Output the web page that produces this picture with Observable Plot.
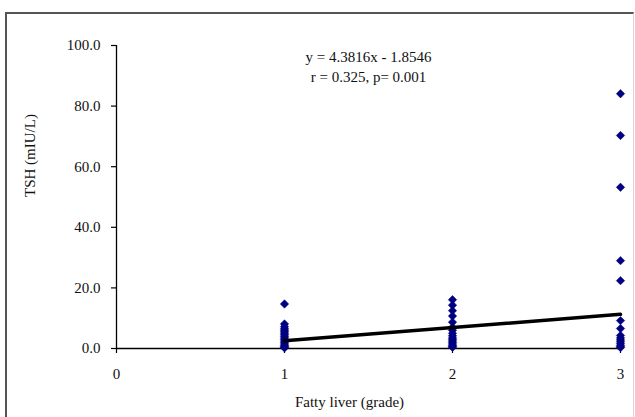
<!DOCTYPE html>
<html>
<head>
<meta charset="utf-8">
<script src="https://cdn.jsdelivr.net/npm/d3@7"></script>
<script src="https://cdn.jsdelivr.net/npm/@observablehq/plot@0.6"></script>
<style>
  html, body { margin: 0; padding: 0; background: #fff; }
  #wrap { position: relative; width: 635px; height: 417px; overflow: hidden; }
  #wrap svg, #wrap svg text { font-family: "Liberation Serif", "DejaVu Serif", "Times New Roman", Times, serif !important; }
  #frame { position: absolute; left: 5px; top: 12px; width: 626px; height: 420px;
           border-left: 2px solid #555; border-top: 2px solid #555; border-right: 1px solid #d8d8d8;
           pointer-events: none; }
</style>
</head>
<body>
<div id="wrap"><div id="frame"></div></div>
<script>
// Data
const grade1TSH = [14.7, 8.1, 7.2, 6.5, 6.0, 5.5, 5.0, 4.5, 4.0, 3.5, 3.0, 2.5, 2.0, 1.5, 1.0, 0.7, 0.4, 0.2];
const grade2TSH = [16.1, 14.3, 12.5, 10.7, 8.7, 7.0, 6.0, 5.0, 4.2, 3.5, 3.0, 2.5, 2.0, 1.5, 1.0, 0.7, 0.4];
const grade3TSH = [84.1, 70.3, 53.2, 29.0, 22.4, 9.2, 6.6, 4.3, 3.5, 2.8, 2.2, 1.6, 1.0, 0.6, 0.3];
const grades = [1, 2, 3];
const xTicks = [0, 1, 2, 3];
const yTicks = [0, 20, 40, 60, 80, 100];
const slope = 4.3816;
const intercept = -1.8546;
const eqLines = ["y = 4.3816x - 1.8546", "r = 0.325, p= 0.001"];
const xLabel = "Fatty liver (grade)";
const yLabel = "TSH (mIU/L)";

const points = [
  ...grade1TSH.map(v => ({grade: 1, tsh: v})),
  ...grade2TSH.map(v => ({grade: 2, tsh: v})),
  ...grade3TSH.map(v => ({grade: 3, tsh: v}))
];
const fit = [grades[0], grades[grades.length - 1]].map(g => ({grade: g, tsh: slope * g + intercept}));
const eq = [{x: 1.5, y: 96.0, t: eqLines[0]}, {x: 1.5, y: 89.5, t: eqLines[1]}];

const font = "Liberation Serif";

const chart = Plot.plot({
  width: 635,
  height: 417,
  marginLeft: 116,
  marginRight: 15,
  marginTop: 45,
  marginBottom: 69,
  style: {fontSize: "15px", color: "#111", background: "transparent"},
  x: {domain: [0, 3], ticks: xTicks},
  y: {domain: [0, 100], ticks: yTicks},
  marks: [
    Plot.axisY({ticks: yTicks, tickFormat: d => d.toFixed(1), tickSize: 5, tickPadding: 11, label: null, fontSize: 15, fontFamily: font, stroke: "#000", strokeWidth: 1.2}),
    Plot.axisX({ticks: xTicks, tickFormat: d => String(d), tickSize: 5, tickPadding: 15, label: null, fontSize: 15, fontFamily: font, stroke: "#000", strokeWidth: 1.2}),
    Plot.ruleX([0], {y1: 0, y2: 100, stroke: "#000", strokeWidth: 1.3}),
    Plot.ruleY([0], {x1: 0, x2: 3, stroke: "#000", strokeWidth: 1.3}),
    Plot.dot(points, {x: "grade", y: "tsh", symbol: "diamond2", r: 3.8, fill: "#000080", stroke: "#000080", strokeWidth: 0.5}),
    Plot.line(fit, {x: "grade", y: "tsh", stroke: "#000", strokeWidth: 3.5}),
    Plot.text(eq, {x: "x", y: "y", text: "t", fontSize: 15, fontFamily: font, fill: "#111"}),
    Plot.text([xLabel], {frameAnchor: "bottom", dx: -19, dy: 58, fontSize: 15, fontFamily: font, fill: "#111"}),
    Plot.text([yLabel], {frameAnchor: "left", rotate: -90, dx: -86, fontSize: 15, fontFamily: font, fill: "#111"})
  ]
});
document.getElementById("wrap").insertBefore(chart, document.getElementById("frame"));
</script>
</body>
</html>
